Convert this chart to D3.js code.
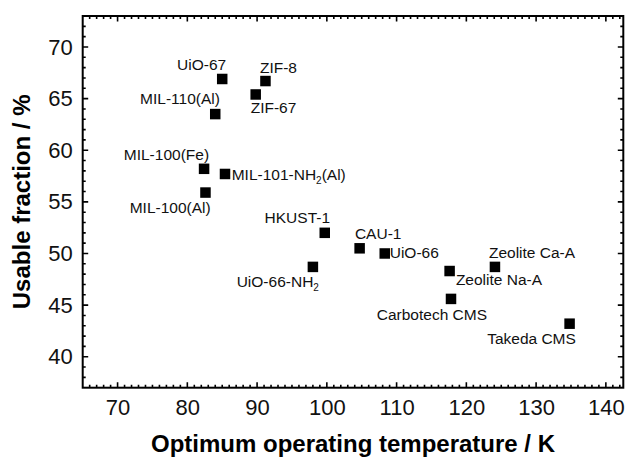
<!DOCTYPE html>
<html>
<head>
<meta charset="utf-8">
<script src="https://cdn.jsdelivr.net/npm/d3@7/dist/d3.min.js"></script>
<style>
  html, body { margin: 0; padding: 0; background: #fff; }
  svg { display: block; font-family: Arial, "Liberation Sans", sans-serif; }
</style>
</head>
<body>
<svg id="chart" width="628" height="457"></svg>
<script>
// Adsorbent materials: optimum operating temperature (K) vs usable fraction (%)
const materials = [
  "UiO-67", "ZIF-8", "ZIF-67", "MIL-110(Al)", "MIL-100(Fe)", "MIL-101-NH2(Al)",
  "MIL-100(Al)", "HKUST-1", "CAU-1", "UiO-66", "UiO-66-NH2", "Zeolite Na-A",
  "Zeolite Ca-A", "Carbotech CMS", "Takeda CMS"
];
const temperatureK = [85.0, 91.2, 89.8, 84.0, 82.4, 85.4, 82.6, 99.7, 104.7, 108.3, 98.0, 117.6, 124.1, 117.8, 134.8];
const usableFraction = [66.9, 66.7, 65.4, 63.5, 58.2, 57.7, 55.9, 52.0, 50.5, 50.0, 48.7, 48.3, 48.7, 45.6, 43.2];

const xMajorTicks = [70, 80, 90, 100, 110, 120, 130, 140];
const yMajorTicks = [40, 45, 50, 55, 60, 65, 70];

// Where each label sits relative to its marker (pixels)
const labelPlacement = [
  { anchor: "end",   dx: 4,   dy: -8.5 },
  { anchor: "start", dx: -5.5, dy: -8.5 },
  { anchor: "start", dx: -5,  dy: 18.5 },
  { anchor: "end",   dx: 4.7, dy: -10 },
  { anchor: "end",   dx: 5,   dy: -9.3 },
  { anchor: "start", dx: 6.7, dy: 5.7 },
  { anchor: "end",   dx: 5.2, dy: 20.7 },
  { anchor: "end",   dx: 5.3, dy: -9.7 },
  { anchor: "start", dx: -4.7, dy: -9.3 },
  { anchor: "start", dx: 5,   dy: 4.4 },
  { anchor: "end",   dx: 6,   dy: 19.7 },
  { anchor: "start", dx: 6.3, dy: 13.7 },
  { anchor: "start", dx: -6,  dy: -8.4 },
  { anchor: "end",   dx: 36,  dy: 21.4 },
  { anchor: "end",   dx: 6.3, dy: 20.3 }
];

const svg = d3.select("#chart");
const plotLeft = 82.7, plotRight = 623.3, plotTop = 16, plotBottom = 387.7;

const x = d3.scaleLinear().domain([65, 142.5]).range([plotLeft, plotRight]);
const y = d3.scaleLinear().domain([37, 73]).range([plotBottom, plotTop]);

const xMinor = d3.range(66, 143, 1).filter(v => v % 10 !== 0);
const yMinor = d3.range(38, 73, 1).filter(v => v % 5 !== 0);

const majorLen = 5.5, minorLen = 3;

// Inward tick marks on all four sides of the frame, one path per set
function tickPath(values, len) {
  let d = "";
  values.forEach(v => {
    const px = x(v);
    d += `M${px},${plotBottom}V${plotBottom - len}M${px},${plotTop}V${plotTop + len}`;
  });
  return d;
}
function yTickPath(values, len) {
  let d = "";
  values.forEach(v => {
    const py = y(v);
    d += `M${plotLeft},${py}H${plotLeft + len}M${plotRight},${py}H${plotRight - len}`;
  });
  return d;
}
const tickG = svg.append("g").attr("fill", "none").attr("stroke", "#000").attr("stroke-width", 1.6);
tickG.append("path").attr("d", tickPath(xMajorTicks, majorLen));
tickG.append("path").attr("d", tickPath(xMinor, minorLen));
tickG.append("path").attr("d", yTickPath(yMajorTicks, majorLen));
tickG.append("path").attr("d", yTickPath(yMinor, minorLen));

// Tick labels from the axis generators
function tickLabels(g) {
  g.select(".domain").remove();
  g.selectAll(".tick line").remove();
  g.selectAll("text").attr("font-size", 22).attr("fill", "#111")
    .attr("font-family", "Arial, 'Liberation Sans', sans-serif");
}
svg.append("g").attr("transform", `translate(0,${plotBottom})`)
  .call(d3.axisBottom(x).tickValues(xMajorTicks).tickSize(0).tickPadding(12))
  .call(tickLabels);
svg.append("g").attr("transform", `translate(${plotLeft},0)`)
  .call(d3.axisLeft(y).tickValues(yMajorTicks).tickSize(0).tickPadding(10))
  .call(tickLabels);

// Plot frame
svg.append("rect")
  .attr("x", plotLeft).attr("y", plotTop)
  .attr("width", plotRight - plotLeft).attr("height", plotBottom - plotTop)
  .attr("fill", "none").attr("stroke", "#000").attr("stroke-width", 2);

// Axis titles
svg.append("text")
  .attr("x", (plotLeft + plotRight) / 2).attr("y", 452)
  .attr("text-anchor", "middle")
  .attr("font-size", 24).attr("font-weight", "bold").attr("fill", "#000")
  .text("Optimum operating temperature / K");

svg.append("text")
  .attr("transform", `translate(30,${(plotTop + plotBottom) / 2}) rotate(-90)`)
  .attr("text-anchor", "middle")
  .attr("font-size", 24).attr("font-weight", "bold").attr("fill", "#000")
  .text("Usable fraction / %");

// Markers
const sq = 10.5;
const points = materials.map((name, i) => ({
  name, t: temperatureK[i], f: usableFraction[i], place: labelPlacement[i]
}));

svg.append("g").selectAll("rect")
  .data(points)
  .join("rect")
  .attr("x", d => x(d.t) - sq / 2)
  .attr("y", d => y(d.f) - sq / 2)
  .attr("width", sq).attr("height", sq)
  .attr("fill", "#000");

// Labels, with "NH2" rendered as NH₂ using a subscript tspan
const labels = svg.append("g").selectAll("text")
  .data(points)
  .join("text")
  .attr("x", d => x(d.t) + d.place.dx)
  .attr("y", d => y(d.f) + d.place.dy)
  .attr("text-anchor", d => d.place.anchor)
  .attr("font-size", 15.5)
  .attr("fill", "#111");

labels.each(function(d) {
  const t = d3.select(this);
  const parts = d.name.split("NH2");
  parts.forEach((p, j) => {
    if (j > 0) {
      t.append("tspan").text("NH");
      t.append("tspan").attr("font-size", 10).attr("dy", 4).text("2");
      if (p.length) t.append("tspan").attr("dy", -4).text(p);
    } else if (p.length) {
      t.append("tspan").text(p);
    }
  });
});
</script>
</body>
</html>
